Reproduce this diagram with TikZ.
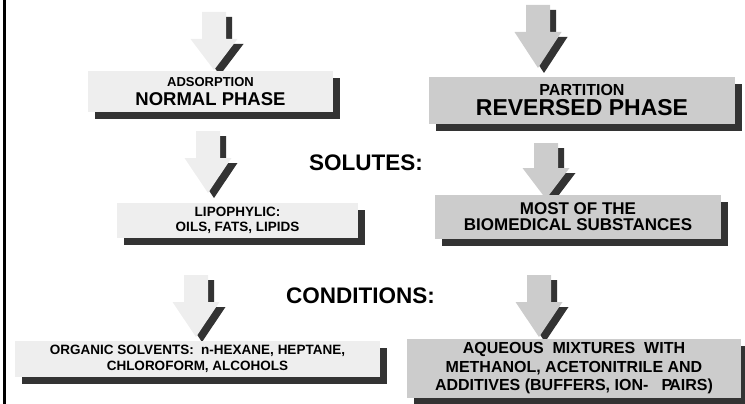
\documentclass[tikz,border=0pt]{standalone}
\usepackage{fontspec}
\setmainfont{Liberation Sans}
\usetikzlibrary{shadows}
\definecolor{lightfill}{HTML}{EEEEEE}
\definecolor{greyfill}{HTML}{CCCCCC}
\definecolor{shadowgrey}{HTML}{333333}
\tikzset{
boxshadow/.style={drop shadow={shadow xshift=7pt,shadow yshift=-7pt,fill=shadowgrey,opacity=1}},
arrowshadow/.style={drop shadow={shadow xshift=6pt,shadow yshift=-5pt,fill=shadowgrey,opacity=1}},
lightblock/.style={fill=lightfill,boxshadow,align=center,inner sep=0pt},
greyblock/.style={fill=greyfill,boxshadow,align=center,inner sep=0pt},
lightarrow/.style={fill=lightfill,arrowshadow},
greyarrow/.style={fill=greyfill,arrowshadow},
heading/.style={font=\fontsize{22.5}{22.5}\selectfont\bfseries,inner sep=0pt}
}
% block arrow pointing down: style, centre x, shaft top, head top, tip
\newcommand{\downblock}[5]{%
\path[#1] (#2-12,#3) -- (#2+12,#3) -- (#2+12,#4) -- (#2+23.5,#4) -- (#2,#5)
  -- (#2-23.5,#4) -- (#2-12,#4) -- cycle;}

\begin{document}
\begin{tikzpicture}[x=1pt,y=-1pt]
\useasboundingbox (0,0) rectangle (745,404);
\draw[line width=2.5pt] (4.7,0) -- (4.7,404);
% arrows
\downblock{lightarrow}{214}{12}{39}{70}
\downblock{greyarrow}{538}{5}{32}{68}
\downblock{lightarrow}{208}{131}{158}{193}
\downblock{greyarrow}{546}{143}{168}{199}
\downblock{lightarrow}{196}{275}{302}{337}
\downblock{greyarrow}{539}{275}{302}{337}
% phases
\node[lightblock,minimum width=245pt,minimum height=41pt,font=\fontsize{13}{18.3}\selectfont\bfseries] (adsorption) at (210.5,91.5) {ADSORPTION\\{\fontsize{18.5}{18.5}\selectfont NORMAL PHASE}};
\node[greyblock,minimum width=306pt,minimum height=47pt,font=\fontsize{16}{20}\selectfont\bfseries] (partition) at (582,100.5) {PARTITION\\{\fontsize{23}{23}\selectfont REVERSED PHASE}};
\node[heading,anchor=base] (solutes) at (366,170) {SOLUTES:};
% solutes
\node[lightblock,minimum width=241pt,minimum height=35pt,font=\fontsize{13.5}{15.6}\selectfont\bfseries] (lipophylic) at (237.5,220.5) {LIPOPHYLIC:\\OILS, FATS, LIPIDS};
\node[greyblock,minimum width=286pt,minimum height=44pt,font=\fontsize{17}{16}\selectfont\bfseries] (biomedical) at (578,217) {MOST OF THE\\BIOMEDICAL SUBSTANCES};
\node[heading,anchor=base] (conditions) at (360.5,303) {CONDITIONS:};
% conditions
\node[lightblock,minimum width=365pt,minimum height=36pt,font=\fontsize{13.5}{16.6}\selectfont\bfseries] (organic) at (197.5,359) {ORGANIC SOLVENTS:\ \ n-HEXANE, HEPTANE,\\CHLOROFORM, ALCOHOLS};
\node[greyblock,minimum width=334pt,minimum height=59pt,font=\fontsize{16}{18.5}\selectfont\bfseries] (aqueous) at (574,368.5) {AQUEOUS\ \ MIXTURES\ \ WITH\\METHANOL, ACETONITRILE AND\\ADDITIVES (BUFFERS, ION-\ \ \ P\kern-3pt AIRS)};
\end{tikzpicture}
\end{document}
